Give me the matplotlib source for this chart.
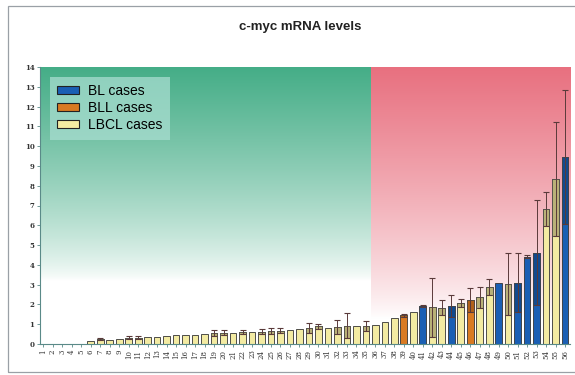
import numpy as np
import matplotlib
matplotlib.use("Agg")
import matplotlib.pyplot as plt
from matplotlib.patches import Rectangle, Patch

# case number 1..56
cases = list(range(1, 57))
# mean c-myc mRNA level per case
means = [0, 0, 0, 0, 0, 0.17, 0.25, 0.22, 0.27, 0.32,
         0.32, 0.33, 0.37, 0.42, 0.45, 0.45, 0.47, 0.5, 0.55, 0.58,
         0.58, 0.6, 0.62, 0.63, 0.65, 0.68, 0.72, 0.74, 0.82, 0.9,
         0.82, 0.88, 0.92, 0.92, 0.9, 0.95, 1.1, 1.3, 1.44, 1.6,
         1.92, 1.85, 1.83, 1.92, 2.05, 2.22, 2.36, 2.88, 3.1, 3.03,
         3.1, 4.41, 4.61, 6.82, 8.33, 9.46]
# standard deviation (0 = no error bar)
sds = [0, 0, 0, 0, 0, 0, 0.06, 0, 0, 0.06,
       0.06, 0, 0, 0, 0, 0, 0, 0, 0.15, 0.15,
       0, 0.12, 0, 0.13, 0.15, 0.12, 0, 0, 0.25, 0.12,
       0, 0.35, 0.63, 0, 0.24, 0, 0, 0, 0.08, 0,
       0.06, 1.5, 0.38, 0.58, 0.2, 0.6, 0.52, 0.38, 0, 1.58,
       1.5, 0.08, 2.66, 0.84, 2.87, 3.4]
# case type: L = LBCL, B = BL, O = BLL
types = "LLLLLLLLLLLLLLLLLLLLLLLLLLLLLLLLLLLLLLOLBLLBLOLLBLBBBLLB"

title = "c-myc mRNA levels"
legend_labels = ["BL cases", "BLL cases", "LBCL cases"]

fill = {"B": "#1a5fb4", "O": "#d97a22", "L": "#f3eba2"}
dark = {"B": "#124a8e", "O": "#b0601a", "L": "#b9b178"}

fig = plt.figure(figsize=(5.75, 3.75), dpi=100)
ax = fig.add_axes([0.0696, 0.0827, 0.9214, 0.7386])

x_split = 35.5
# gradient backgrounds
grad = np.linspace(0, 1, 256).reshape(-1, 1)
def band(top_rgb, fade_to, x0, x1, pw):
    t = np.clip((grad - fade_to) / (1 - fade_to), 0, 1) ** pw
    img = np.ones((256, 1, 3))
    for c in range(3):
        img[:, 0, c] = 1 - t[:, 0] * (1 - top_rgb[c])
    ax.imshow(img, extent=[x0, x1, 0, 14], origin="lower", aspect="auto", zorder=0)

band((0.27, 0.68, 0.53), 3.2 / 14, 0.65, x_split, 0.75)
band((0.91, 0.44, 0.50), 1.3 / 14, x_split, 56.5, 0.8)

cols = [fill[t] for t in types]
ax.bar(cases, means, width=0.7, color=cols, edgecolor="#333333", linewidth=0.6, zorder=2)

for x, m, s, t in zip(cases, means, sds, types):
    if s <= 0:
        continue
    ax.bar(x, s, bottom=m - s, width=0.7, color=dark[t], edgecolor="#444444",
           linewidth=0.5, zorder=3)
    ax.errorbar(x, m, yerr=s, fmt="none", ecolor="#5a3a3a", elinewidth=0.7,
                capsize=2.2, capthick=0.8, zorder=4)

ax.set_xlim(0.65, 56.5)
ax.set_ylim(0, 14)
ax.set_yticks(range(0, 15))
ax.set_yticklabels([str(v) for v in range(0, 15)], fontsize=5, family="DejaVu Serif",
                   fontweight="bold", color="#333333")
ax.set_xticks(cases)
ax.set_xticklabels([str(c) for c in cases], rotation=90, fontsize=5,
                   family="DejaVu Serif", color="#333333")
ax.tick_params(axis="both", length=2, width=0.6, colors="#5a8a88", pad=2)
for lab in ax.get_xticklabels() + ax.get_yticklabels():
    lab.set_color("#333333")
for sp in ["top", "right"]:
    ax.spines[sp].set_visible(False)
for sp in ["left", "bottom"]:
    ax.spines[sp].set_color("#5a8a88")
    ax.spines[sp].set_linewidth(0.8)

handles = [Patch(facecolor=fill[k], edgecolor="#222222", linewidth=0.8) for k in "BOL"]
leg = ax.legend(handles, legend_labels, loc="upper left", bbox_to_anchor=(0.005, 0.99),
                prop={"family": "Liberation Sans", "size": 10}, frameon=True,
                handlelength=1.6, handleheight=0.5, handletextpad=0.6,
                labelspacing=0.2, borderpad=0.55, fancybox=False)
leg.get_frame().set_facecolor("#a8ddd0")
leg.get_frame().set_alpha(0.75)
leg.get_frame().set_edgecolor("none")

fig.text(0.522, 0.928, title, ha="center", va="center", fontsize=9.5,
         fontweight="bold", family="Liberation Sans", color="#222222")

fig.patches.append(Rectangle((8 / 575, 3 / 375), 570 / 575, 366 / 375,
                             transform=fig.transFigure, fill=False,
                             edgecolor="#9aa0a6", linewidth=0.9))

fig.savefig("out.png", dpi=100)
